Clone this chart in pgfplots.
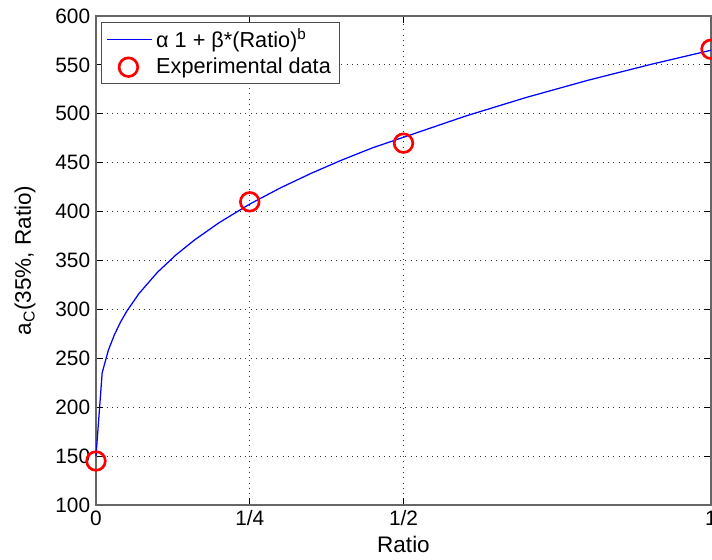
\documentclass[border=0pt]{standalone}
\usepackage{pgfplots}
\pgfplotsset{compat=1.18}
\usepackage{fontspec}
\setmainfont{Liberation Sans}
\begin{document}
\begin{tikzpicture}[x=1pt,y=1pt]
\begin{axis}[
  at={(0,0)}, anchor=south west,
  width=369pt, height=293.4pt, scale only axis,
  xmin=0, xmax=1, ymin=100, ymax=600,
  xtick={0,0.25,0.5,1}, xticklabels={0,1/4,1/2,1},
  ytick={100,150,...,600},
  /pgf/number format/assume math mode=true,
  tick label style={font=\fontsize{12.5}{14}\selectfont},
  label style={font=\fontsize{13.5}{16}\selectfont},
  xlabel={Ratio}, ylabel={a\textsubscript{C}(35\%, Ratio)},
  xlabel style={yshift=1pt},
  ylabel style={yshift=5pt},
  tick align=inside, major tick length=4pt,
  tick style={black, line width=0.5pt},
  axis line style={black!60, line width=0.8pt},
  grid=major,
  major grid style={black!80, line width=0.6pt, dash pattern=on 0.6pt off 2.6pt},
  legend style={at={(rel axis cs:0,1)}, anchor=north west, xshift=3pt, yshift=-3.6pt,
    font=\fontsize{13}{15}\selectfont, draw=black!70,
    inner xsep=3pt, inner ysep=2pt, row sep=1pt, cells={anchor=west}},
  legend cell align=left,
  clip=false,
]
\addplot[color=blue, line width=0.75pt, forget plot] coordinates {
(0,150) (0.01,235.1) (0.02,258.1) (0.03,274.2) (0.04,287.2) (0.05,298.1)
(0.07,316.3) (0.1,338.0) (0.13,355.7) (0.16,370.9) (0.2,388.6) (0.25,407.7)
(0.3,424.3) (0.35,439.2) (0.4,452.8) (0.45,465.3) (0.5,476.0) (0.6,497.5)
(0.7,516.8) (0.8,534.3) (0.9,550.2) (1.0,565.0)
};
\addlegendimage{legend image code/.code={\draw[color=blue, line width=0.9pt] (0.1cm,0cm) -- (1.05cm,0cm);}}
\addlegendentry{α 1 + β*(Ratio)\textsuperscript{b}}
\addplot[only marks, red, mark=o, mark size=5.6pt, line width=1.6pt, forget plot] coordinates {
(0,145) (0.25,410) (0.5,470) (1,566)
};
\addlegendimage{legend image code/.code={\draw[red, line width=1.6pt] (0.55cm,0cm) circle (5.6pt);}}
\addlegendentry{Experimental data}
\end{axis}
\pgfresetboundingbox
\path[use as bounding box] (-57.6pt,-32.4pt) rectangle (369.6pt,303pt);
\end{tikzpicture}
\end{document}
